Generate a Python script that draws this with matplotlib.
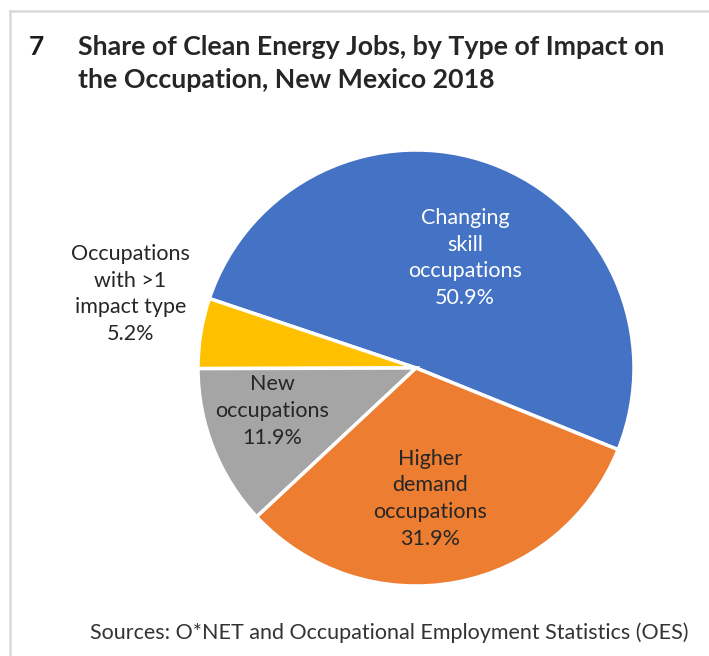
import matplotlib
matplotlib.use("Agg")
from matplotlib import pyplot as plt
from matplotlib.lines import Line2D

# data
LABELS = ["Changing\nskill\noccupations", "Occupations\nwith >1\nimpact type",
          "New\noccupations", "Higher\ndemand\noccupations"]
SHARES = [50.9, 5.2, 11.9, 31.9]
COLORS = ["#4472C4", "#FFC000", "#A5A5A5", "#ED7D31"]
TEXT_COLORS = ["white", "#262626", "#262626", "#262626"]
# label centres in pie units (radius = 1)
LABEL_POS = [(0.225, 0.505), (-1.31, 0.34), (-0.66, -0.197), (0.064, -0.60)]

W, H = 709, 656
FONT = "Lato"

fig = plt.figure(figsize=(W / 100, H / 100), dpi=100)
fig.patch.set_facecolor("white")

# light frame (top and left edges)
fig.add_artist(Line2D([10 / W, 1], [1 - 11 / H, 1 - 11 / H], color="#d9d9d9", lw=1.8))
fig.add_artist(Line2D([10 / W, 10 / W], [0, 1 - 11 / H], color="#d9d9d9", lw=1.8))

cx, cy, r = 416, 368, 218
ax = fig.add_axes([(cx - r) / W, (H - cy - r) / H, 2 * r / W, 2 * r / H])
ax.pie(SHARES, colors=COLORS, startangle=-22, counterclock=True,
       wedgeprops=dict(edgecolor="white", linewidth=2.5))
ax.set_xlim(-1, 1)
ax.set_ylim(-1, 1)
ax.axis("off")

for lab, val, pos, tc in zip(LABELS, SHARES, LABEL_POS, TEXT_COLORS):
    ax.text(pos[0], pos[1], f"{lab}\n{val:.1f}%", ha="center", va="center",
            color=tc, fontsize=15.5, family=FONT, linespacing=1.42, clip_on=False)

fig.text(36 / W, 1 - 47 / H, "7", fontsize=19, fontweight="bold", family=FONT,
         ha="center", va="center", color="#1a1a1a")
fig.text(78 / W, 1 - 47 / H, "Share of Clean Energy Jobs, by Type of Impact on",
         fontsize=19.3, fontweight="bold", family=FONT, ha="left", va="center", color="#262626")
fig.text(78 / W, 1 - 80 / H, "the Occupation, New Mexico 2018",
         fontsize=19.3, fontweight="bold", family=FONT, ha="left", va="center", color="#262626")
fig.text(389 / W, 1 - 633 / H,
         "Sources: O*NET and Occupational Employment Statistics (OES)",
         fontsize=15.5, family=FONT, ha="center", va="center", color="#333333")

fig.savefig("out.png", dpi=100, facecolor="white")
